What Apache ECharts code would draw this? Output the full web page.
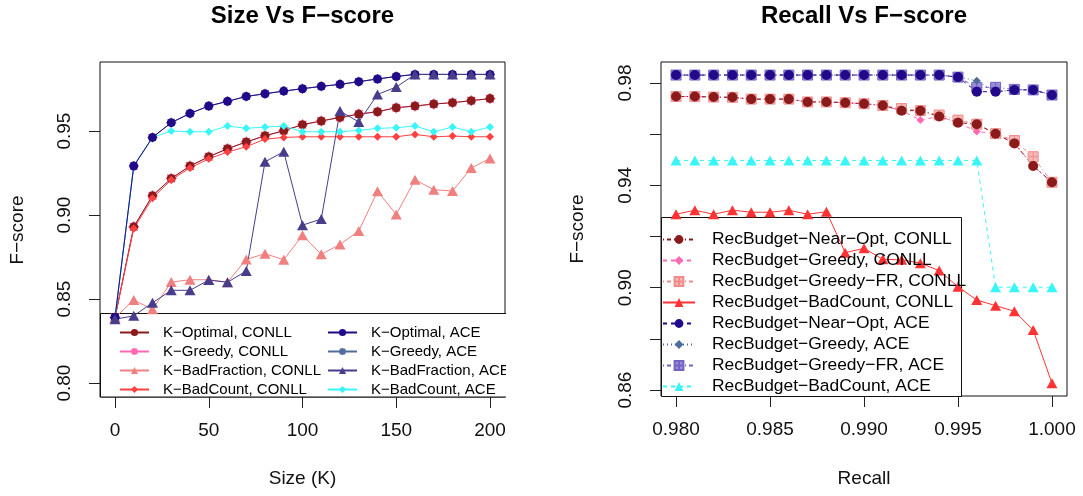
<!DOCTYPE html>
<html><head><meta charset="utf-8">
<script src="https://cdn.jsdelivr.net/npm/echarts@6/dist/echarts.min.js"></script>
<style>html,body{margin:0;padding:0;background:#fff}#c{width:1083px;height:496px}</style>
</head><body><div id="c"></div>
<script>
// ---------- Left chart: Size Vs F-score ----------
const sizes = [0,10,20,30,40,50,60,70,80,90,100,110,120,130,140,150,160,170,180,190,200];
const kOptimalConll   = [0.839,0.893,0.9115,0.9218,0.9292,0.9347,0.9395,0.9435,0.9472,0.9502,0.9538,0.9560,0.9581,0.9601,0.9615,0.9639,0.9649,0.9661,0.9669,0.9681,0.9693];
const kGreedyConll    = [0.839,0.893,0.9115,0.9218,0.9292,0.9347,0.9395,0.9435,0.9472,0.9502,0.9538,0.9560,0.9581,0.9601,0.9615,0.9639,0.9649,0.9661,0.9669,0.9681,0.9693];
const kBadFracConll   = [0.839,0.8494,0.8439,0.8601,0.8615,0.8615,0.8600,0.8736,0.8770,0.8734,0.8880,0.8766,0.8825,0.8905,0.9141,0.9004,0.9210,0.9151,0.9143,0.9280,0.9337];
const kBadCountConll  = [0.839,0.892,0.910,0.921,0.928,0.9335,0.9375,0.9407,0.9452,0.9462,0.9466,0.9466,0.9466,0.9466,0.9466,0.9466,0.9480,0.9466,0.9470,0.9466,0.9466];
const kOptimalAce     = [0.839,0.9292,0.9462,0.9550,0.9605,0.9649,0.9677,0.9706,0.9722,0.9738,0.9752,0.9766,0.9778,0.9794,0.9810,0.9825,0.9837,0.9837,0.9837,0.9837,0.9837];
const kGreedyAce      = [0.839,0.9292,0.9462,0.9550,0.9605,0.9649,0.9677,0.9706,0.9722,0.9738,0.9752,0.9766,0.9778,0.9794,0.9810,0.9825,0.9837,0.9837,0.9837,0.9837,0.9837];
const kBadFracAce     = [0.838,0.8400,0.8478,0.8552,0.8552,0.8613,0.8600,0.8667,0.9317,0.9377,0.8940,0.8976,0.9619,0.9554,0.9718,0.9762,0.9837,0.9837,0.9837,0.9837,0.9837];
const kBadCountAce    = [0.839,0.9292,0.9462,0.9500,0.9496,0.9496,0.9530,0.9516,0.9524,0.9530,0.9496,0.9496,0.9496,0.9504,0.9516,0.9520,0.9530,0.9496,0.9524,0.9496,0.9524];
const leftXTicks = [0,50,100,150,200];
const leftYTicks = [0.80,0.85,0.90,0.95];

// ---------- Right chart: Recall Vs F-score ----------
const recall = [0.980,0.981,0.982,0.983,0.984,0.985,0.986,0.987,0.988,0.989,0.990,0.991,0.992,0.993,0.994,0.995,0.996,0.997,0.998,0.999,1.000];
const nearOptConll  = [0.9747,0.9747,0.9745,0.9744,0.9737,0.9737,0.9737,0.9726,0.9726,0.9723,0.9719,0.9712,0.9692,0.9692,0.9669,0.9645,0.9639,0.9602,0.9564,0.9476,0.9412];
const greedyConll   = [0.9747,0.9747,0.9745,0.9744,0.9737,0.9737,0.9737,0.9726,0.9726,0.9723,0.9719,0.9712,0.9692,0.9655,0.9669,0.9645,0.9610,0.9602,0.9564,0.9476,0.9412];
const greedyFRConll = [0.9747,0.9747,0.9745,0.9744,0.9737,0.9737,0.9737,0.9726,0.9726,0.9723,0.9719,0.9712,0.9700,0.9692,0.9675,0.9655,0.9639,0.9602,0.9575,0.9512,0.9412];
const badCountConll = [0.9287,0.9303,0.9287,0.9303,0.9295,0.9295,0.9303,0.9287,0.9297,0.9137,0.9154,0.9111,0.9109,0.9096,0.9067,0.9004,0.8952,0.8930,0.8908,0.8835,0.8627];
const nearOptAce    = [0.9831,0.9831,0.9831,0.9831,0.9831,0.9831,0.9831,0.9831,0.9831,0.9831,0.9831,0.9831,0.9831,0.9831,0.9831,0.9823,0.9766,0.9766,0.9773,0.9773,0.9753];
const greedyAce     = [0.9831,0.9831,0.9831,0.9831,0.9831,0.9831,0.9831,0.9831,0.9831,0.9831,0.9831,0.9831,0.9831,0.9831,0.9831,0.9823,0.9809,0.9766,0.9773,0.9773,0.9753];
const greedyFRAce   = [0.9831,0.9831,0.9831,0.9831,0.9831,0.9831,0.9831,0.9831,0.9831,0.9831,0.9831,0.9831,0.9831,0.9831,0.9831,0.9823,0.9783,0.9783,0.9775,0.9773,0.9753];
const badCountAce   = [0.9497,0.9497,0.9497,0.9497,0.9497,0.9497,0.9497,0.9497,0.9497,0.9497,0.9497,0.9497,0.9497,0.9497,0.9497,0.9497,0.9497,0.9002,0.9002,0.9002,0.9002];
const rightXTicks = [0.980,0.985,0.990,0.995,1.000];
const rightYTicks = [0.86,0.88,0.90,0.92,0.94,0.96,0.98];
const rightYLabels = [0.86,0.90,0.94,0.98];

const FONT = "'Liberation Sans', Arial, Helvetica, sans-serif";
const STAR = 'path://M5,0L5,10M0,5L10,5M1.46,1.46L8.54,8.54M1.46,8.54L8.54,1.46';
const SQPLUS = 'path://M0,0L10,0L10,10L0,10ZM5,0L5,10M0,5L10,5';

function pairs(xs, ys){ return xs.map((x,i)=>[x, ys[i]]); }
function mk(name, idx, xs, ys, o){
  return {
    name, type:'line', xAxisIndex:idx, yAxisIndex:idx,
    data: pairs(xs, ys), symbol:o.symbol, symbolSize:o.size,
    showSymbol:true, animation:false, clip:true,
    itemStyle:{color:o.fill||o.color, borderColor:o.border||o.color, borderWidth:o.bw||0, opacity:1},
    lineStyle:{color:o.color, width:1, type:o.dash||'solid'},
    emphasis:{disabled:true}
  };
}

const C = {
  darkred:'#8B1A1A', hotpink:'#FF69B4', coral:'#F08080', red:'#FF4040',
  indigo:'#22098A', steel:'#4F6D9A', slate:'#483D8B', cyan:'#38F6F8',
  red2:'#FF3333', frpink:'#F08C8C', frace:'#7563C4'
};

const series = [
  // left (draw order)
  mk('K−Greedy, CONLL',0,sizes,kGreedyConll,{symbol:STAR,size:11,color:C.hotpink,fill:'rgba(0,0,0,0)',border:C.hotpink,bw:1.2}),
  mk('K−Optimal, CONLL',0,sizes,kOptimalConll,{symbol:'circle',size:9,color:C.darkred}),
  mk('K−BadCount, CONLL',0,sizes,kBadCountConll,{symbol:'diamond',size:8,color:C.red}),
  mk('K−BadFraction, CONLL',0,sizes,kBadFracConll,{symbol:'triangle',size:[11,10],color:C.coral}),
  mk('K−Greedy, ACE',0,sizes,kGreedyAce,{symbol:STAR,size:10,color:C.steel,fill:'rgba(0,0,0,0)',border:C.steel,bw:1}),
  mk('K−BadCount, ACE',0,sizes,kBadCountAce,{symbol:'diamond',size:8,color:C.cyan}),
  mk('K−Optimal, ACE',0,sizes,kOptimalAce,{symbol:'circle',size:9,color:C.indigo}),
  mk('K−BadFraction, ACE',0,sizes,kBadFracAce,{symbol:'triangle',size:[11,10],color:C.slate}),
  // right
  mk('RecBudget−Greedy−FR, CONLL',1,recall,greedyFRConll,{symbol:SQPLUS,size:10,color:C.frpink,fill:'#F5B8B8',border:C.frpink,bw:1,dash:[1,3,4,3]}),
  mk('RecBudget−Greedy, CONLL',1,recall,greedyConll,{symbol:'diamond',size:8,color:C.hotpink,dash:[4,4]}),
  mk('RecBudget−Near−Opt, CONLL',1,recall,nearOptConll,{symbol:'circle',size:10,color:C.darkred,dash:[1,3,4,3]}),
  mk('RecBudget−BadCount, CONLL',1,recall,badCountConll,{symbol:'triangle',size:[11,10],color:C.red2}),
  mk('RecBudget−Greedy−FR, ACE',1,recall,greedyFRAce,{symbol:SQPLUS,size:10,color:C.frace,fill:'#9B8CD8',border:C.frace,bw:1,dash:[1,3,4,3]}),
  mk('RecBudget−Greedy, ACE',1,recall,greedyAce,{symbol:'diamond',size:8,color:C.steel,dash:[1,3]}),
  mk('RecBudget−Near−Opt, ACE',1,recall,nearOptAce,{symbol:'circle',size:10,color:C.indigo,dash:[4,4]}),
  mk('RecBudget−BadCount, ACE',1,recall,badCountAce,{symbol:'triangle',size:[11,10],color:C.cyan,dash:[4,4]})
];

function xAx(idx,min,max,ticks,fmt){
  return {gridIndex:idx,type:'value',min,max,
    axisLine:{show:false,onZero:false},splitLine:{show:false},
    axisTick:{show:true,length:11,customValues:ticks,lineStyle:{color:'#222',width:1}},
    axisLabel:{customValues:ticks,margin:24,fontSize:19,fontFamily:FONT,color:'#111',formatter:fmt}};
}
function yAx(idx,min,max,ticks,labels,fmt){
  return {gridIndex:idx,type:'value',min,max,
    axisLine:{show:false,onZero:false},splitLine:{show:false},
    axisTick:{show:true,length:11,customValues:ticks,lineStyle:{color:'#222',width:1}},
    axisLabel:{customValues:labels,rotate:90,margin:26,fontSize:19,fontFamily:FONT,color:'#111',formatter:fmt}};
}

const legendBase = {orient:'vertical',padding:0,itemGap:4,selectedMode:false};

const option = {
  backgroundColor:'#fff', animation:false,
  grid:[
    {left:100,top:62,width:405,height:335,show:true,borderColor:'#111',borderWidth:1,backgroundColor:'transparent'},
    {left:661,top:62,width:406,height:334,show:true,borderColor:'#111',borderWidth:1,backgroundColor:'transparent'}
  ],
  xAxis:[
    xAx(0,-8,208,leftXTicks,v=>String(v)),
    xAx(1,0.9792,1.0008,rightXTicks,v=>v.toFixed(3))
  ],
  yAxis:[
    yAx(0,0.7917,0.9911,leftYTicks,leftYTicks,v=>v.toFixed(2)),
    yAx(1,0.8577,0.9882,rightYTicks,rightYLabels,v=>v.toFixed(2))
  ],
  legend:[
    Object.assign({},legendBase,{left:119,top:325,itemWidth:29,itemHeight:9,
      textStyle:{fontFamily:FONT,color:'#000',fontSize:15,padding:[0,0,0,9]},
      data:['K−Optimal, CONLL','K−Greedy, CONLL','K−BadFraction, CONLL','K−BadCount, CONLL']}),
    Object.assign({},legendBase,{left:327,top:325,itemWidth:29,itemHeight:9,
      textStyle:{fontFamily:FONT,color:'#000',fontSize:15,padding:[0,0,0,9]},
      data:['K−Optimal, ACE','K−Greedy, ACE','K−BadFraction, ACE','K−BadCount, ACE']}),
    Object.assign({},legendBase,{left:662,top:231,itemWidth:32,itemHeight:11,
      textStyle:{fontFamily:FONT,color:'#000',fontSize:17.4,padding:[0,0,0,12]},
      data:['RecBudget−Near−Opt, CONLL','RecBudget−Greedy, CONLL','RecBudget−Greedy−FR, CONLL','RecBudget−BadCount, CONLL',
            'RecBudget−Near−Opt, ACE','RecBudget−Greedy, ACE','RecBudget−Greedy−FR, ACE','RecBudget−BadCount, ACE']})
  ],
  graphic:[
    {type:'rect',z:3,shape:{x:100.5,y:313.5,width:450,height:83.5},style:{fill:'#fff',stroke:'#111',lineWidth:1}},
    {type:'rect',z:100,shape:{x:506,y:310,width:52,height:90},style:{fill:'#fff'}},
    {type:'rect',z:3,shape:{x:661.5,y:217.5,width:300,height:179},style:{fill:'#fff',stroke:'#111',lineWidth:1}},
    {type:'text',z:100,x:302.5,y:16,style:{text:'Size Vs F−score',font:'bold 24px '+FONT,fill:'#000',textAlign:'center',textVerticalAlign:'middle'}},
    {type:'text',z:100,x:864,y:16,style:{text:'Recall Vs F−score',font:'bold 24px '+FONT,fill:'#000',textAlign:'center',textVerticalAlign:'middle'}},
    {type:'text',z:100,x:302.5,y:479,style:{text:'Size (K)',font:'19px '+FONT,fill:'#111',textAlign:'center',textVerticalAlign:'middle'}},
    {type:'text',z:100,x:864,y:479,style:{text:'Recall',font:'19px '+FONT,fill:'#111',textAlign:'center',textVerticalAlign:'middle'}},
    {type:'text',z:100,x:18,y:230,rotation:Math.PI/2,style:{text:'F−score',font:'19px '+FONT,fill:'#111',textAlign:'center',textVerticalAlign:'middle'}},
    {type:'text',z:100,x:578,y:229,rotation:Math.PI/2,style:{text:'F−score',font:'19px '+FONT,fill:'#111',textAlign:'center',textVerticalAlign:'middle'}}
  ],
  series
};
const chart = echarts.init(document.getElementById('c'),null,{renderer:'canvas'});
chart.setOption(option);
</script></body></html>
